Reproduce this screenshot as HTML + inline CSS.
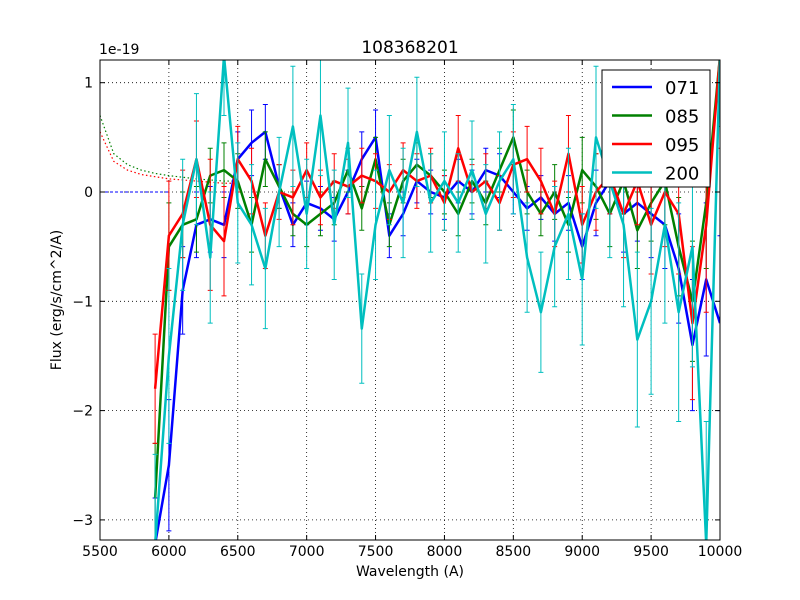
<!DOCTYPE html>
<html><head><meta charset="utf-8"><style>
html,body{margin:0;padding:0;background:#fff;overflow:hidden;width:800px;height:600px}
svg{display:block}
text{font-family:"DejaVu Sans","Liberation Sans",sans-serif}
</style></head><body>
<svg id="chart" width="800" height="600" xmlns="http://www.w3.org/2000/svg">
<rect width="800" height="600" fill="#fff"/>
<defs><clipPath id="clip"><rect x="100" y="60" width="620" height="480"/></clipPath></defs>
<g id="grid"></g>
<g id="series" clip-path="url(#clip)"></g>
<rect x="100" y="60" width="620" height="480" fill="none" stroke="#000"/>
<g id="ticks"></g>
<text x="410" y="53" font-size="17" text-anchor="middle">108368201</text>
<text x="99" y="54" font-size="14">1e-19</text>
<text x="410" y="576" font-size="14" text-anchor="middle">Wavelength (A)</text>
<text transform="translate(61,300) rotate(-90)" font-size="14" text-anchor="middle">Flux (erg/s/cm^2/A)</text>
<g id="legend">
<rect x="602" y="70" width="108" height="117" fill="#fff" stroke="#000"/>
</g>
</svg>
<script>
const xs=[5900,6000,6100,6200,6300,6400,6500,6600,6700,6800,6900,7000,7100,7200,7300,7400,7500,7600,7700,7800,7900,8000,8100,8200,8300,8400,8500,8600,8700,8800,8900,9000,9100,9200,9300,9400,9500,9600,9700,9800,9900,10000];
const s071=[-3.3,-2.5,-0.9,-0.3,-0.25,-0.3,0.3,0.45,0.55,0.05,-0.3,-0.1,-0.15,-0.25,0.0,0.3,0.5,-0.4,-0.2,0.1,0.0,-0.05,0.1,0.0,0.2,0.15,0.0,-0.15,-0.05,-0.2,-0.1,-0.5,-0.1,0.1,-0.2,-0.1,-0.2,-0.3,-0.7,-1.4,-0.8,-1.2];
const s085=[-2.8,-0.5,-0.3,-0.25,0.15,0.2,0.1,-0.3,0.3,0.05,-0.2,-0.3,-0.2,-0.1,0.2,-0.15,0.3,-0.3,0.1,0.25,0.15,0.0,-0.2,0.1,-0.1,0.2,0.5,0.0,-0.2,0.0,-0.3,0.2,0.05,-0.2,0.1,-0.35,-0.1,0.1,-0.5,-1.0,-0.1,1.3];
const s095=[-1.8,-0.4,-0.2,0.3,-0.3,-0.45,0.3,0.1,-0.4,0.0,-0.05,0.2,-0.05,0.1,0.05,0.15,0.1,0.0,0.2,0.1,0.15,-0.1,0.4,0.0,0.1,-0.1,0.25,0.3,0.1,-0.2,0.35,-0.3,0.0,0.15,-0.2,0.1,-0.3,0.0,-0.2,-1.2,-0.3,1.3];
const s200=[-3.3,-1.5,-0.3,0.3,-0.6,1.3,-0.1,-0.3,-0.7,0.0,0.6,-0.2,0.7,-0.3,0.45,-1.25,-0.3,0.2,-0.1,0.55,-0.1,0.1,-0.1,0.2,-0.2,0.1,0.3,-0.6,-1.1,-0.5,-0.2,-0.8,0.5,0.1,-0.3,-1.35,-1.0,-0.3,-1.1,-0.5,-3.3,1.3];
const e071=[0.5,0.6,0.4,0.3,0.3,0.3,0.25,0.3,0.25,0.2,0.2,0.2,0.2,0.2,0.2,0.25,0.25,0.2,0.2,0.2,0.2,0.2,0.2,0.2,0.2,0.2,0.2,0.2,0.2,0.25,0.25,0.3,0.3,0.3,0.35,0.35,0.4,0.4,0.5,0.6,0.7,0.8];
const e085=[0.5,0.4,0.3,0.3,0.25,0.25,0.25,0.25,0.25,0.2,0.2,0.2,0.2,0.2,0.2,0.2,0.2,0.2,0.2,0.2,0.2,0.2,0.2,0.2,0.2,0.2,0.25,0.2,0.2,0.25,0.25,0.3,0.3,0.3,0.3,0.35,0.35,0.4,0.45,0.55,0.6,0.7];
const e095=[0.5,0.5,0.4,0.35,0.6,0.5,0.3,0.3,0.3,0.25,0.25,0.25,0.25,0.25,0.25,0.25,0.25,0.25,0.25,0.25,0.25,0.25,0.3,0.25,0.25,0.25,0.3,0.3,0.3,0.3,0.35,0.35,0.35,0.35,0.4,0.4,0.45,0.5,0.55,0.7,0.8,0.9];
const e200=[0.9,0.8,0.6,0.6,0.6,0.6,0.55,0.55,0.55,0.5,0.55,0.5,0.55,0.5,0.5,0.5,0.5,0.5,0.5,0.5,0.45,0.45,0.45,0.45,0.45,0.45,0.5,0.5,0.55,0.55,0.6,0.6,0.65,0.7,0.75,0.8,0.85,0.9,1.0,1.1,1.2,1.3];
const leftX=[5500,5600,5700,5800,5900,6000,6200,6400,6500];
const leftGreen=[0.7,0.35,0.25,0.2,0.17,0.15,0.12,0.1,0.1];
const leftRed=[0.55,0.28,0.2,0.16,0.14,0.12,0.1,0.08,0.08];
const xTicks=[5500,6000,6500,7000,7500,8000,8500,9000,9500,10000];
const yTicks=[-3,-2,-1,0,1];
const yTickLabels=["\u22123","\u22122","\u22121","0","1"];
const names=["071","085","095","200"];
const colors=["#0000ff","#008000","#ff0000","#00bfbf"];
const X=v=>100+(v-5500)*620/4500;
const Y=v=>192-v*109.3;
const YC=v=>Math.max(56,Math.min(544,Y(v)));
const NS="http://www.w3.org/2000/svg";
function mk(tag,attrs,parent){const e=document.createElementNS(NS,tag);for(const k in attrs)e.setAttribute(k,attrs[k]);parent.appendChild(e);return e;}
const grid=document.getElementById('grid'),ticks=document.getElementById('ticks'),ser=document.getElementById('series'),leg=document.getElementById('legend');
xTicks.forEach(t=>{const x=X(t);
 const g=mk('line',{x1:x,x2:x,y1:60,y2:540,stroke:'#000','stroke-dasharray':'1,3','stroke-width':0.8},grid);
 
 mk('line',{x1:x,x2:x,y1:540,y2:535,stroke:'#000'},ticks);mk('line',{x1:x,x2:x,y1:60,y2:65,stroke:'#000'},ticks);
 const tx=mk('text',{x:x,y:556,'font-size':14,'text-anchor':'middle'},ticks);tx.textContent=t;
 });
yTicks.forEach((t,i)=>{const y=Y(t);
 const g=mk('line',{x1:100,x2:720,y1:y,y2:y,stroke:'#000','stroke-dasharray':'1,3','stroke-width':0.8},grid);
 
 mk('line',{x1:100,x2:105,y1:y,y2:y,stroke:'#000'},ticks);mk('line',{x1:715,x2:720,y1:y,y2:y,stroke:'#000'},ticks);
 const tx=mk('text',{x:93,y:y+5,'font-size':14,'text-anchor':'end'},ticks);tx.textContent=yTickLabels[i];
 });
const dg=mk('polyline',{points:leftX.map((x,i)=>X(x)+','+YC(leftGreen[i])).join(' '),fill:'none',stroke:'#008000','stroke-dasharray':'1.5,2.5','stroke-width':1.2},ser);

const dr=mk('polyline',{points:leftX.map((x,i)=>X(x)+','+YC(leftRed[i])).join(' '),fill:'none',stroke:'#ff0000','stroke-dasharray':'1.5,2.5','stroke-width':1.2},ser);

const db=mk('line',{x1:X(5500),x2:X(6000),y1:Y(0),y2:Y(0),stroke:'#0000ff','stroke-dasharray':'3,2','stroke-width':1},ser);

const data=[s071,s085,s095,s200],errs=[e071,e085,e095,e200];
data.forEach((s,k)=>{
 const g=mk('g',{},ser);
 
 s.forEach((v,i)=>{const x=X(xs[i]),e=errs[k][i];
  const b=mk('path',{d:`M${x},${YC(v-e)}V${YC(v+e)}M${x-2.5},${YC(v-e)}h5M${x-2.5},${YC(v+e)}h5`,stroke:colors[k],'stroke-width':1,fill:'none'},g);
  });
 const l=mk('polyline',{points:s.map((v,i)=>X(xs[i])+','+YC(v)).join(' '),fill:'none',stroke:colors[k],'stroke-width':2.5,'stroke-linejoin':'round'},g);
 });
names.forEach((n,k)=>{const y=87+k*28.5;
 const l=mk('line',{x1:612,x2:652,y1:y,y2:y,stroke:colors[k],'stroke-width':2.5},leg);
 
 const t=mk('text',{x:665,y:y+7,'font-size':18},leg);t.textContent=n;
 });
</script>
</body></html>
